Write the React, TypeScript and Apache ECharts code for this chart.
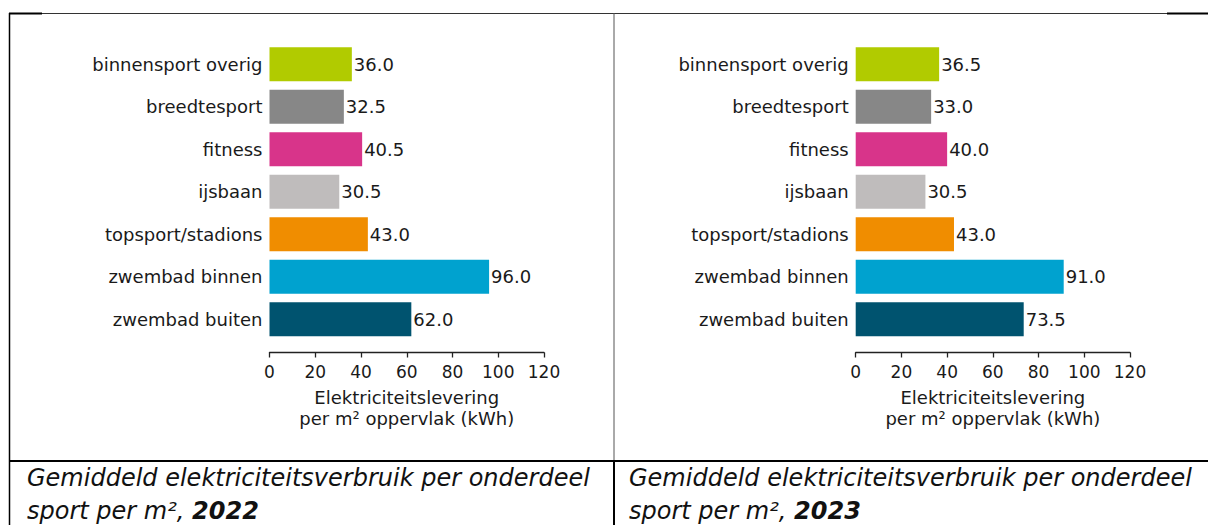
import React, { useEffect, useRef } from "react";
import * as echarts from "echarts";

const CATEGORIES = [
  "binnensport overig",
  "breedtesport",
  "fitness",
  "ijsbaan",
  "topsport/stadions",
  "zwembad binnen",
  "zwembad buiten",
];
const VALUES_2022 = [36.0, 32.5, 40.5, 30.5, 43.0, 96.0, 62.0];
const VALUES_2023 = [36.5, 33.0, 40.0, 30.5, 43.0, 91.0, 73.5];
const X_MIN = 0;
const X_MAX = 120;
const X_STEP = 20;
const AXIS_TITLE_LINE1 = "Elektriciteitslevering";
const AXIS_TITLE_LINE2 = "per m² oppervlak (kWh)";
const CAPTION_LINE1 = "Gemiddeld elektriciteitsverbruik per onderdeel";
const CAPTION_LINE2 = "sport per m²,";
const YEARS = ["2022", "2023"];

const BAR_COLORS = [
  "#b1cb00",
  "#878787",
  "#d8348a",
  "#bfbcbc",
  "#f08d00",
  "#00a2cf",
  "#00536f",
];

const CHART_FONT = "'DejaVu Sans', sans-serif";
const CAPTION_FONT = "'DejaVu Sans', sans-serif";
const TEXT_COLOR = "#1a1a1a";

export default function App() {
  const ref = useRef<HTMLDivElement>(null);

  useEffect(() => {
    document.body.style.margin = "0";
    if (!ref.current) return;
    const chart = echarts.init(ref.current, undefined, { renderer: "svg" });

    const grids = [
      { left: 269.5, top: 43, width: 274.5, height: 297.5 },
      { left: 855.7, top: 43, width: 274.3, height: 297.5 },
    ];

    const xAxes = grids.map((_, i) => ({
      type: "value",
      gridIndex: i,
      min: X_MIN,
      max: X_MAX,
      interval: X_STEP,
      offset: 12,
      axisLine: { show: true, lineStyle: { color: "#222", width: 1.3 } },
      axisTick: { show: true, length: 5, lineStyle: { color: "#222", width: 1.3 } },
      splitLine: { show: false },
      axisLabel: {
        fontSize: 17,
        fontFamily: CHART_FONT,
        color: TEXT_COLOR,
        margin: 11,
      },
      name: AXIS_TITLE_LINE1 + "\n" + AXIS_TITLE_LINE2,
      nameLocation: "middle",
      nameGap: 34,
      nameTextStyle: {
        fontSize: 18,
        fontFamily: CHART_FONT,
        color: TEXT_COLOR,
        lineHeight: 21,
      },
    }));

    const yAxes = grids.map((_, i) => ({
      type: "category",
      gridIndex: i,
      data: CATEGORIES,
      inverse: true,
      axisLine: { show: false },
      axisTick: { show: false },
      axisLabel: {
        fontSize: 18,
        fontFamily: CHART_FONT,
        color: TEXT_COLOR,
        margin: 7,
      },
    }));

    const makeSeries = (values: number[], i: number) => ({
      type: "bar",
      xAxisIndex: i,
      yAxisIndex: i,
      barWidth: "80%",
      data: values.map((v, k) => ({
        value: v,
        itemStyle: { color: BAR_COLORS[k] },
      })),
      label: {
        show: true,
        position: "right",
        distance: 2,
        formatter: (p: any) => Number(p.value).toFixed(1),
        fontSize: 18,
        fontFamily: CHART_FONT,
        color: TEXT_COLOR,
      },
    });

    const captionX = [27, 629];
    const captionTexts: any[] = [];
    captionX.forEach((x, i) => {
      captionTexts.push({
        type: "text",
        x,
        y: 477.5,
        style: {
          text: CAPTION_LINE1,
          fontStyle: "italic",
          fontSize: 24,
          fontFamily: CAPTION_FONT,
          fill: "#111",
          verticalAlign: "middle",
        },
      });
      captionTexts.push({
        type: "text",
        x,
        y: 511,
        style: {
          text: `{a|${CAPTION_LINE2} }{b|${YEARS[i]}}`,
          fill: "#111",
          verticalAlign: "middle",
          rich: {
            a: {
              fontStyle: "italic",
              fontSize: 24,
              fontFamily: CAPTION_FONT,
              fill: "#111",
              lineHeight: 28,
            },
            b: {
              fontStyle: "italic",
              fontWeight: "bold",
              fontSize: 24,
              fontFamily: CAPTION_FONT,
              fill: "#111",
              lineHeight: 28,
            },
          },
        },
      });
    });

    const line = (x1: number, y1: number, x2: number, y2: number, color: string, w: number) => ({
      type: "line",
      shape: { x1, y1, x2, y2 },
      style: { stroke: color, lineWidth: w },
      silent: true,
    });

    const frame = [
      line(9, 13.5, 1208, 13.5, "#333", 1.2),
      line(9, 13.5, 42, 13.5, "#000", 2),
      line(1167, 13.5, 1208, 13.5, "#000", 2),
      line(9.5, 13, 9.5, 525, "#000", 1.5),
      line(614, 13, 614, 461, "#555", 1),
      line(614, 461, 614, 525, "#000", 2),
      line(9, 461, 1208, 461, "#000", 2),
    ];

    chart.setOption({
      animation: false,
      backgroundColor: "#ffffff",
      grid: grids,
      xAxis: xAxes,
      yAxis: yAxes,
      series: [makeSeries(VALUES_2022, 0), makeSeries(VALUES_2023, 1)],
      graphic: [...frame, ...captionTexts],
    });

    return () => chart.dispose();
  }, []);

  return <div ref={ref} style={{ width: 1208, height: 525 }} />;
}
